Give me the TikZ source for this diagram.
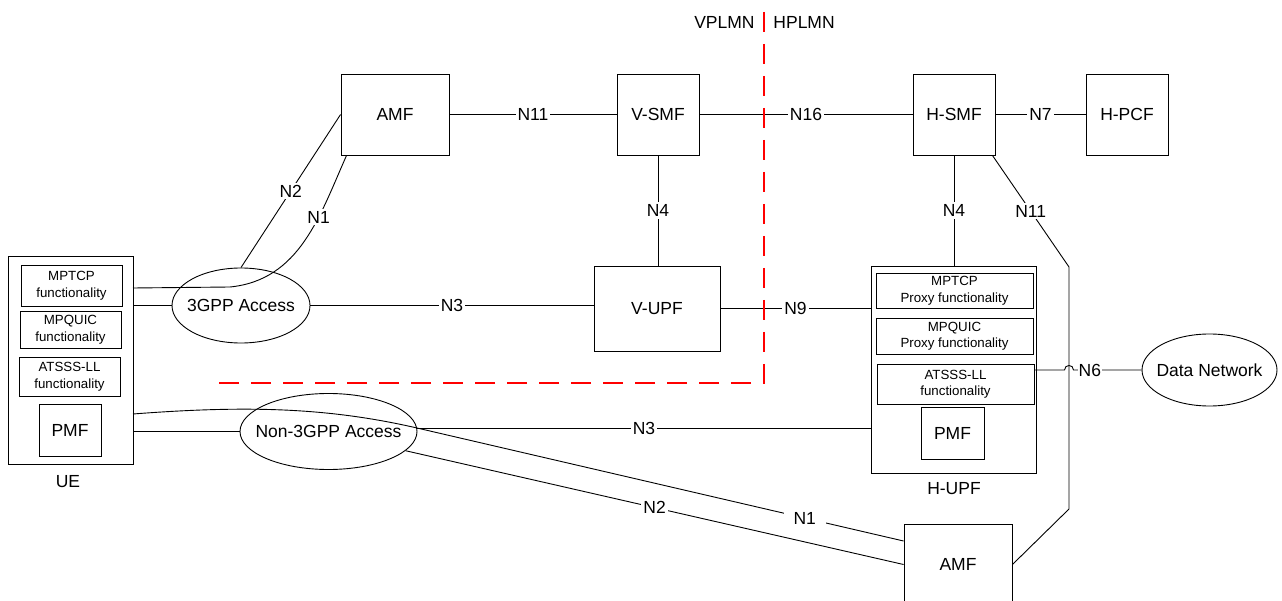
\documentclass[tikz,border=0pt]{standalone}
\usepackage{fontspec}
\setmainfont{Liberation Sans}
\usetikzlibrary{shapes.geometric}
\begin{document}
\begin{tikzpicture}[x=1pt,y=-1pt,
  line width=0.9pt,
  nf/.style={draw, rectangle, inner sep=0pt, font=\fontsize{17.5}{20}\selectfont},
  fbox/.style={draw, rectangle, inner sep=0pt, align=center, font=\fontsize{13.3}{16.5}\selectfont},
  acc/.style={draw, ellipse, inner sep=0pt},
  lbl/.style={fill=white, inner sep=2pt, font=\fontsize{17.5}{20}\selectfont},
  txt/.style={inner sep=0pt, font=\fontsize{17.5}{20}\selectfont},
  plmn/.style={red, line width=2.6pt, dash pattern=on 20pt off 12pt}
]
\useasboundingbox (0,0) rectangle (1282,601);

% network functions
\node[nf, minimum width=108pt, minimum height=81pt] (amf) at (395,114.5) {AMF};
\node[nf, minimum width=82pt, minimum height=81pt] (vsmf) at (658,114.5) {V-SMF};
\node[nf, minimum width=82pt, minimum height=81pt] (hsmf) at (954,114.5) {H-SMF};
\node[nf, minimum width=82pt, minimum height=81pt] (hpcf) at (1127,114.5) {H-PCF};
\node[nf, minimum width=126pt, minimum height=85pt] (vupf) at (657,308.5) {V-UPF};
\node[nf, minimum width=108pt, minimum height=81pt] (amf2) at (958,564.5) {AMF};

% UE
\node[nf, minimum width=125pt, minimum height=208pt] (ue) at (70.5,360) {};
\node[txt] (uelbl) at (68,482) {UE};
\node[fbox, minimum width=101pt, minimum height=41pt] (uemptcp) at (71.5,285.5) {MPTCP\\functionality};
\node[fbox, minimum width=101pt, minimum height=37pt] (uempquic) at (70.5,329.5) {MPQUIC\\functionality};
\node[fbox, minimum width=101pt, minimum height=39pt] (ueatsss) at (69.5,376.5) {ATSSS-LL\\functionality};
\node[nf, minimum width=62pt, minimum height=52pt] (uepmf) at (70,430) {PMF};

% H-UPF
\node[nf, minimum width=165pt, minimum height=207pt] (hupf) at (953.5,369.5) {};
\node[txt] (hupflbl) at (954,489) {H-UPF};
\node[fbox, minimum width=157pt, minimum height=35pt] (hmptcp) at (954.5,290.5) {MPTCP\\Proxy functionality};
\node[fbox, minimum width=157pt, minimum height=36pt] (hmpquic) at (954.5,336) {MPQUIC\\Proxy functionality};
\node[fbox, minimum width=157pt, minimum height=40pt] (hatsss) at (955.5,384) {ATSSS-LL\\functionality};
\node[nf, minimum width=63pt, minimum height=52pt] (hpmf) at (952.5,433) {PMF};

% access networks and DN
\node[acc, minimum width=138pt, minimum height=75pt] (acc3) at (241,305.5) {};
\node[txt] (acc3t) at (acc3.center) {3GPP Access};
\node[acc, minimum width=177pt, minimum height=76pt] (accn3) at (328.5,431.5) {};
\node[txt] (accn3t) at (accn3.center) {Non-3GPP Access};
\node[acc, minimum width=135pt, minimum height=72pt] (dn) at (1209.5,370) {};
\node[txt] (dnt) at (dn.center) {Data Network};

% PLMN labels
\node[txt, anchor=east] (vplmn) at (755,22) {VPLMN};
\node[txt, anchor=west] (hplmn) at (773,22) {HPLMN};

% helper coordinates
\coordinate (ueA) at (133,288);
\coordinate (ueB) at (133,414);
\coordinate (ueC) at (133,431.5);
\coordinate (n1bend) at (230,287);
\coordinate (n1low) at (417,428);
\coordinate (n11a) at (1069,267);
\coordinate (n11b) at (1069,509);
\coordinate (hopL) at (1064.5,370);
\coordinate (hopR) at (1073.5,370);

% connectors
\draw (amf.east) -- node[lbl]{N11} (vsmf.west);
\draw (vsmf.east) -- node[lbl]{N16} (hsmf.west);
\draw (hsmf.east) -- node[lbl]{N7} (hpcf.west);
\draw (vsmf.south) -- node[lbl]{N4} (vsmf.south |- vupf.north);
\draw (hsmf.south) -- node[lbl]{N4} (hsmf.south |- hupf.north);
\draw (acc3.east) -- node[lbl]{N3} (acc3.east -| vupf.west);
\draw (vupf.east) -- node[lbl]{N9} (vupf.east -| hupf.west);
\draw (ue.east |- acc3.west) -- (acc3.west);
\draw (amf.west) -- node[lbl]{N2} (acc3.north);
\draw ([xshift=6pt]amf.south west) .. controls (320,215) and (300,280) .. (n1bend) node[lbl,pos=0.35]{N1} -- (ueA);

\draw (ueB) .. controls (250,405) and (330,408) .. (n1low) -- node[lbl,pos=0.797,inner xsep=10pt]{N1} ([yshift=23.5pt]amf2.west);
\draw (accn3.-14) -- node[lbl]{N2} (amf2.west);
\draw (ueC) -- (accn3.west);
\draw ([yshift=3.5pt]accn3.east) -- node[lbl]{N3} ([yshift=3.5pt]accn3.east -| hupf.west);

\draw ([xshift=-3pt]hsmf.south east) -- node[lbl]{N11} (n11a) -- (n11b) -- (amf2.east);
\draw (hatsss.east |- hopL) -- (hopL) .. controls (1064.5,364) and (1073.5,364) .. (hopR) -- node[lbl,pos=0.24,inner sep=1pt]{N6} (dn.west);

% VPLMN / HPLMN border
\draw[plmn] (764,12) -- (764,383) -- (209,383);
\end{tikzpicture}
\end{document}
